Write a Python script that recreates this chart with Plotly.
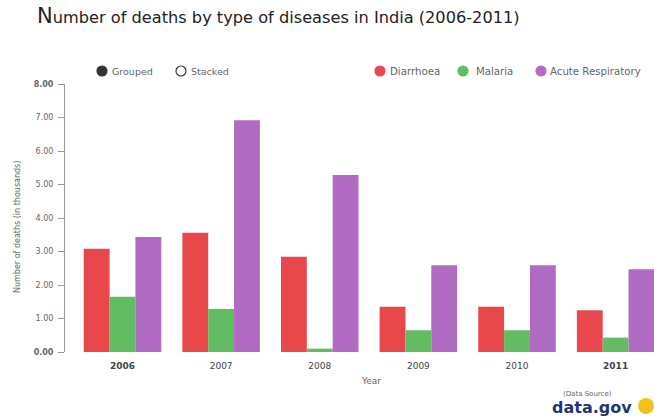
import plotly.graph_objects as go

# Deaths (in thousands) by disease, India 2006-2011
years = ["2006", "2007", "2008", "2009", "2010", "2011"]
diarrhoea = [3.08, 3.56, 2.84, 1.35, 1.35, 1.25]
malaria = [1.65, 1.28, 0.10, 0.65, 0.65, 0.43]
acute_respiratory = [3.43, 6.92, 5.28, 2.59, 2.59, 2.47]
y_ticks = [0, 1, 2, 3, 4, 5, 6, 7, 8]

series = [
    ("Diarrhoea", diarrhoea, "#e8474c"),
    ("Malaria", malaria, "#63bb63"),
    ("Acute Respiratory", acute_respiratory, "#b06cc2"),
]

W, H = 654, 419
L, R, T, B = 65, 0, 84, 67
FONT = "DejaVu Sans, Verdana, sans-serif"


def px_x(px):
    return (px - L) / (W - L - R)


def px_y(py):
    return (H - B - py) / (H - T - B)


fig = go.Figure()
xpos = list(range(len(years)))
for name, vals, color in series:
    fig.add_trace(go.Bar(x=xpos, y=vals, name=name, marker_color=color,
                         marker_line_width=0, showlegend=False))

bold_ends = {years[0], years[-1]}
x_text = [f"<b>{y}</b>" if y in bold_ends else y for y in years]
y_text = [f"<b>{v:.2f}</b>" if v in (y_ticks[0], y_ticks[-1]) else f"{v:.2f}"
          for v in y_ticks]

shapes = []
annotations = []


def legend_dot(cx, cy, fill, line):
    shapes.append(dict(type="circle", xref="paper", yref="paper",
                       xsizemode="pixel", ysizemode="pixel",
                       xanchor=px_x(cx), yanchor=px_y(cy),
                       x0=-5, x1=5, y0=-5, y1=5,
                       fillcolor=fill, line=dict(color=line, width=1.2)))


def label(text, x, y, size=10, color="#666", anchor="left", **kw):
    annotations.append(dict(text=text, xref="paper", yref="paper",
                            x=px_x(x), y=px_y(y), xanchor=anchor,
                            yanchor="middle", showarrow=False,
                            font=dict(family=kw.get("family", FONT),
                                      size=size, color=color),
                            textangle=kw.get("angle", 0)))


# mode switch (grouped / stacked)
legend_dot(102, 71, "#333333", "#333333")
label("Grouped", 110, 71, size=9.5)
legend_dot(181, 71, "white", "#333333")
label("Stacked", 189, 71, size=9.5)

# series legend
for (name, _, color), cx, tx in zip(series, [380, 463, 541], [388, 474, 548]):
    legend_dot(cx, 71, color, color)
    label(name, tx, 71, size=10.2)

# axis titles
label("Number of deaths (in thousands)", 18, 227, size=8, anchor="center",
      angle=-90)
label("Year", 371, 381, size=9, anchor="center")

# data source credit
label("(Data Source)", 587, 394, size=7, anchor="center")
label("<b>data.gov</b>", 592, 407, size=16, color="#1e3770",
      anchor="center")
shapes.append(dict(type="circle", xref="paper", yref="paper",
                   xsizemode="pixel", ysizemode="pixel",
                   xanchor=px_x(646), yanchor=px_y(406),
                   x0=-8, x1=8, y0=-8, y1=8,
                   fillcolor="#f2c21b", line=dict(width=0)))

fig.update_layout(
    width=W, height=H,
    margin=dict(l=L, r=R, t=T, b=B, pad=0),
    paper_bgcolor="white", plot_bgcolor="white",
    barmode="group", bargap=0.214, bargroupgap=0,
    font=dict(family=FONT, size=9, color="#555"),
    title=dict(text="<span style='font-size:21px'>N</span>umber of deaths by type of diseases in India (2006-2011)",
               xref="container", yref="container", x=37 / W, y=1 - 17 / H,
               xanchor="left", yanchor="middle",
               font=dict(family=FONT, size=16.2, color="#222")),
    xaxis=dict(range=[-0.583, 5.389], tickvals=xpos, ticktext=x_text,
               showline=False, showgrid=False, zeroline=False, ticks="",
               ticklabelstandoff=7,
               tickfont=dict(size=9, color="#444")),
    yaxis=dict(range=[0, 8], tickvals=y_ticks, ticktext=y_text,
               showline=True, linecolor="#999", linewidth=1,
               ticks="outside", ticklen=6, tickcolor="#999",
               ticklabelstandoff=3,
               showgrid=False, zeroline=False,
               tickfont=dict(size=8, color="#666")),
    shapes=shapes, annotations=annotations,
)

fig.write_html("out.html")
